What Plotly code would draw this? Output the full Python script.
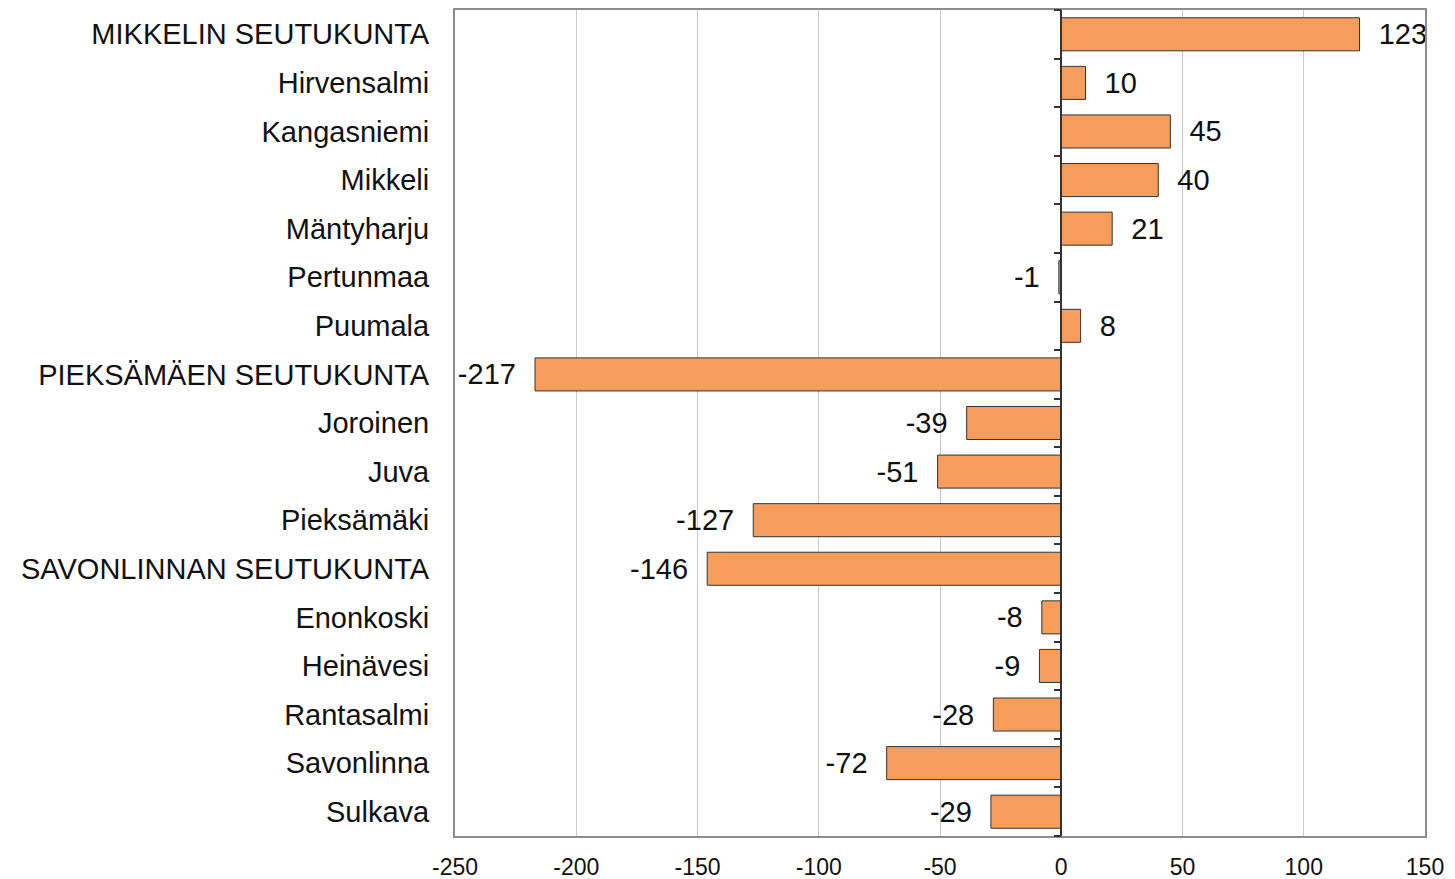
import plotly.graph_objects as go

categories = ["MIKKELIN SEUTUKUNTA", "Hirvensalmi", "Kangasniemi", "Mikkeli", "Mäntyharju",
              "Pertunmaa", "Puumala", "PIEKSÄMÄEN SEUTUKUNTA", "Joroinen", "Juva", "Pieksämäki",
              "SAVONLINNAN SEUTUKUNTA", "Enonkoski", "Heinävesi", "Rantasalmi", "Savonlinna", "Sulkava"]
values = [123, 10, 45, 40, 21, -1, 8, -217, -39, -51, -127, -146, -8, -9, -28, -72, -29]
x_ticks = [-250, -200, -150, -100, -50, 0, 50, 100, 150]

NB = "\u00a0\u00a0"
labels = [(NB + str(v)) if v >= 0 else (str(v) + NB) for v in values]

FONT = "Liberation Sans, Arial, sans-serif"

fig = go.Figure()
fig.add_trace(go.Bar(
    y=categories, x=values, orientation="h",
    marker=dict(color="#F79D5B", line=dict(color="#333333", width=1)),
    text=labels, textposition="outside", cliponaxis=False,
    textfont=dict(family=FONT, size=29, color="#111111"),
    showlegend=False,
))
# dummy trace so the zero-axis with boundary ticks is drawn
fig.add_trace(go.Scatter(x=[None], y=[None], yaxis="y2", showlegend=False, hoverinfo="skip"))

n = len(categories)
fig.update_layout(
    width=1447, height=871,
    margin=dict(l=447, r=30, t=2, b=43, autoexpand=False),
    paper_bgcolor="white", plot_bgcolor="white",
    bargap=0.32,
    font=dict(family=FONT, color="#111111"),
    xaxis=dict(
        range=[-250, 150], tickvals=x_ticks, ticktext=[str(t) for t in x_ticks],
        showgrid=True, gridcolor="#c8c8c8", gridwidth=1,
        zeroline=True, zerolinecolor="#333333", zerolinewidth=1.5,
        showline=True, linecolor="#8c8c8c", linewidth=2, mirror=True,
        ticks="", tickfont=dict(size=23, family=FONT, color="#111111"),
        ticklabelstandoff=9, automargin=False,
    ),
    yaxis=dict(
        autorange="reversed", type="category",
        showgrid=False, zeroline=False,
        showline=True, linecolor="#8c8c8c", linewidth=2, mirror=True,
        ticks="", tickfont=dict(size=29, family=FONT, color="#111111"),
        ticklabelstandoff=18, automargin=False,
    ),
    yaxis2=dict(
        overlaying="y", anchor="free", position=0.625, side="left",
        range=[n - 0.5, -0.5],
        tickvals=[i - 0.5 for i in range(n + 1)],
        showticklabels=False, ticks="outside", ticklen=7, tickcolor="#333333", tickwidth=1.5,
        showline=True, linecolor="#333333", linewidth=1.5,
        showgrid=False, zeroline=False, automargin=False,
    ),
)

fig.write_html("out.html")
